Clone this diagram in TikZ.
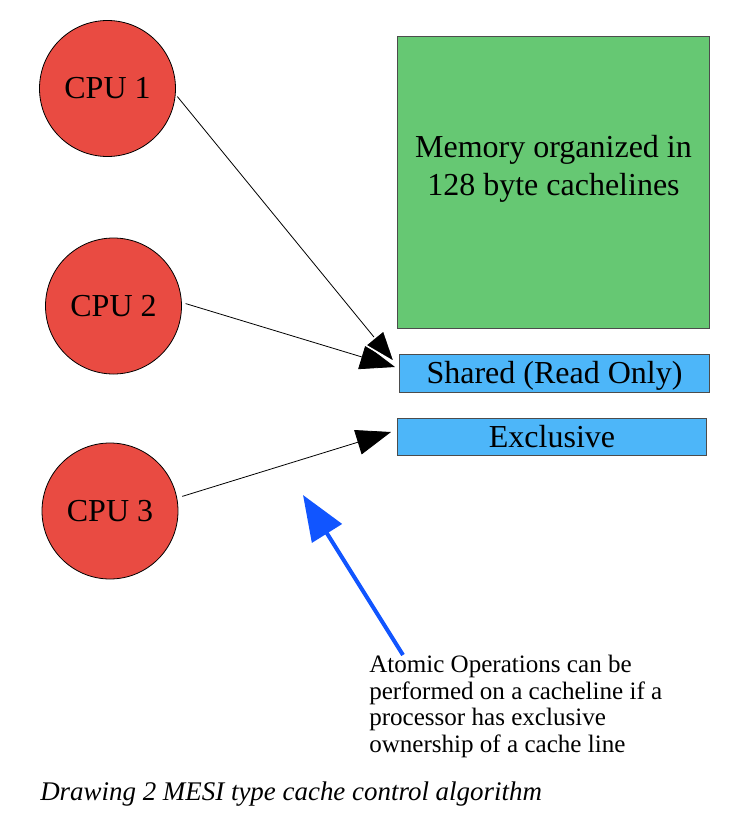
\documentclass[tikz,border=0pt]{standalone}
\usepackage{fontspec}
\setmainfont{Liberation Serif}
\usetikzlibrary{arrows.meta}
\definecolor{cpured}{HTML}{E94B42}
\definecolor{memgreen}{HTML}{66C873}
\definecolor{stateblue}{HTML}{4DB6F9}
\definecolor{atomblue}{HTML}{1155FF}
\tikzset{
  cpu/.style={circle, draw=black, line width=0.6pt, fill=cpured, minimum size=102pt, inner sep=0pt, font=\fontsize{24}{26}\selectfont},
  membox/.style={draw=black!70, line width=0.7pt, fill=memgreen, minimum width=234pt, minimum height=219pt, inner sep=0pt},
  statebox/.style={draw=black!70, line width=0.7pt, fill=stateblue, minimum width=232pt, minimum height=28pt, inner sep=0pt, text depth=4pt, text height=19.5pt, font=\fontsize{24}{27}\selectfont},
  link/.style={draw=black, line width=0.6pt, -{Triangle[length=26pt,width=19pt]}},
  atomarrow/.style={draw=atomblue, line width=3pt, -{Triangle[length=34pt,width=26pt]}},
}
\begin{document}
\begin{tikzpicture}[x=0.75pt,y=-0.75pt]
\useasboundingbox (0,0) rectangle (746,822);
% CPUs
\node[cpu] (cpu1) at (107.5,88.5) {CPU 1};
\node[cpu] (cpu2) at (113.5,306) {CPU 2};
\node[cpu] (cpu3) at (110,511) {CPU 3};
% memory and states
\node[membox] (mem) at (553,182) {};
\node[align=center, font=\fontsize{24}{28}\selectfont] (memtext) at (553.5,169) {Memory organized in\\128 byte cachelines};
\node[statebox] (shared) at (554.5,373.5) {Shared (Read Only)};
\node[statebox] (excl) at (552,437) {Exclusive};
% arrow end points
\coordinate (sharedin1) at (396,364);
\coordinate (sharedin2) at (395,367);
\coordinate (exclin) at (391,432);
% connectors
\draw[link, shorten <=3pt] (cpu2.3) -- (sharedin2);
\draw[draw=black, line width=0.6pt, shorten <=2pt, -{Triangle[length=26pt,width=19pt,fill=black,color=white,line width=1.2pt]}] (cpu1.-5.4) -- (sharedin1);
\draw[link, shorten <=4pt] (cpu3.11) -- (exclin);
% atomic note
\node[anchor=north west, align=left, inner sep=0pt, font=\fontsize{18.8}{19.9}\selectfont] (note) at (369,655)
  {Atomic Operations can be\\performed on a cacheline if a\\processor has exclusive\\ownership of a cache line};
\coordinate (notetail) at (403,655);
\coordinate (notetip) at (303,495);
\draw[atomarrow] (notetail) -- (notetip);
% caption
\node[anchor=base west, inner sep=0pt, font=\fontsize{20.2}{24}\selectfont\itshape] (caption) at (40,800) {Drawing 2 MESI type cache control algorithm};
\end{tikzpicture}
\end{document}
